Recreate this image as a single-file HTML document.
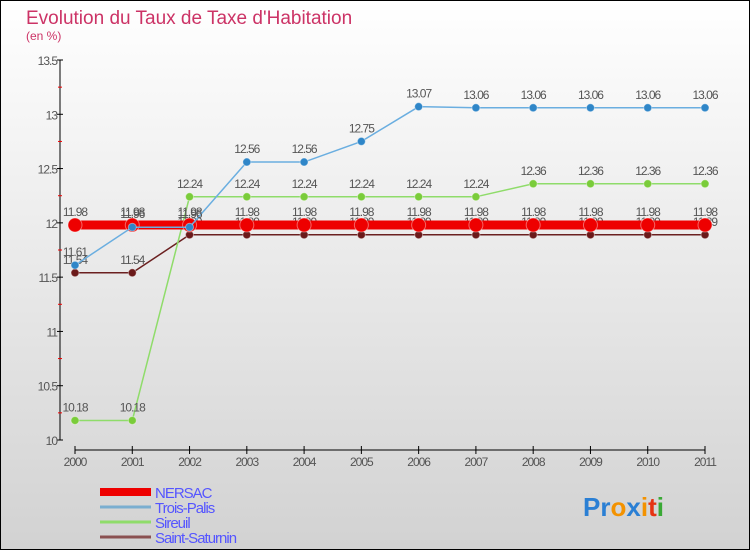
<!DOCTYPE html>
<html><head><meta charset="utf-8"><style>
body{margin:0}
#c{width:750px;height:550px;position:relative;font-family:"Liberation Sans",sans-serif}
</style></head><body>
<div id="c">
<svg id="s" width="750" height="550" xmlns="http://www.w3.org/2000/svg">
<defs><linearGradient id="bg" x1="0" y1="0" x2="0" y2="1"><stop offset="0" stop-color="#ffffff"/><stop offset="1" stop-color="#d2d2d2"/></linearGradient></defs>
<rect x="0.5" y="0.5" width="749" height="549" fill="url(#bg)" stroke="#000"/>
<text x="26" y="24" font-size="19" fill="#cc3366">Evolution du Taux de Taxe d'Habitation</text>
<text x="26" y="40" font-size="12" fill="#cc3366">(en %)</text>
<g id="axes"></g><g id="series"></g><g id="legend"></g>
<g font-size="26" font-weight="bold">
<text x="583" y="516"><tspan fill="#2a7fd4">Pr</tspan><tspan fill="#f39200">o</tspan><tspan fill="#2a7fd4">x</tspan><tspan fill="#f39200">i</tspan><tspan fill="#e63312">t</tspan><tspan fill="#3aa935">i</tspan></text>
</g>
</svg>
</div>
<script>
const years=[2000,2001,2002,2003,2004,2005,2006,2007,2008,2009,2010,2011];
const nersac=[11.98,11.98,11.98,11.98,11.98,11.98,11.98,11.98,11.98,11.98,11.98,11.98];
const troisPalis=[11.61,11.96,11.96,12.56,12.56,12.75,13.07,13.06,13.06,13.06,13.06,13.06];
const sireuil=[10.18,10.18,12.24,12.24,12.24,12.24,12.24,12.24,12.36,12.36,12.36,12.36];
const saintSaturnin=[11.54,11.54,11.89,11.89,11.89,11.89,11.89,11.89,11.89,11.89,11.89,11.89];
const yTicks=[10,10.5,11,11.5,12,12.5,13,13.5];
const NS="http://www.w3.org/2000/svg";
const X=i=>75+i*(630/11);
const Y=v=>440-(v-10)*(380/3.5);
function mk(t,a,p){const e=document.createElementNS(NS,t);for(const k in a)e.setAttribute(k,a[k]);p.appendChild(e);return e;}
const ax=document.getElementById('axes');
let e=mk('line',{x1:60,y1:60,x2:60,y2:440,stroke:'#000'},ax);


e=mk('line',{x1:75,y1:450,x2:705,y2:450,stroke:'#000'},ax);


for(let v=10.25;v<13.5;v+=0.5){mk('line',{x1:58,x2:62,y1:Y(v),y2:Y(v),stroke:'#e00'},ax);}
yTicks.forEach(v=>{mk('line',{x1:57,x2:63,y1:Y(v),y2:Y(v),stroke:'#000'},ax);
const t=mk('text',{x:57,y:Y(v)+5,'text-anchor':'end','font-size':12,fill:'#555','letter-spacing':'-1'},ax);t.textContent=v;

});
years.forEach((yr,i)=>{mk('line',{x1:X(i),x2:X(i),y1:446,y2:454,stroke:'#000'},ax);
const t=mk('text',{x:X(i),y:466,'text-anchor':'middle','font-size':12,fill:'#555','letter-spacing':'-1'},ax);t.textContent=yr;

});
const sg=document.getElementById('series');
function draw(data,color,w,r,dot,name,lbl){
const g=mk('g',{},sg);


mk('polyline',{points:data.map((v,i)=>X(i)+','+Y(v)).join(' '),fill:'none',stroke:color,'stroke-width':w},g);
data.forEach((v,i)=>{const c=mk('circle',{cx:X(i),cy:Y(v),r:r,fill:dot,stroke:'#fff','stroke-opacity':0.4},g);


const t=mk('text',{x:X(i),y:Y(v)-9,'text-anchor':'middle','font-size':12,fill:'#555','letter-spacing':'-1'},g);t.textContent=lbl(v);

});
}
const f=v=>String(v);
draw(saintSaturnin,'#6b2020',1.5,4,'#6b1a1a','saint-saturnin-series',f);
draw(sireuil,'#8fdc6a',1.5,4,'#7acc3a','sireuil-series',f);
draw(nersac,'#ee0000',9,7,'#ee0000','nersac-series',f);
draw(troisPalis,'#6aaee0',1.5,4,'#2f86c8','trois-palis-series',f);
const lg=document.getElementById('legend');
const items=[['NERSAC','#ee0000',8],['Trois-Palis','#7aaed0',3],['Sireuil','#8fdc6a',3],['Saint-Saturnin','#8a5050',3]];
items.forEach((it,k)=>{const y=492+k*15;
const g=mk('g',{},lg);


mk('line',{x1:100,x2:151,y1:y,y2:y,stroke:it[1],'stroke-width':it[2]},g);
const t=mk('text',{x:155,y:y+6,'font-size':15,fill:'#5555ff','letter-spacing':'-1'},g);t.textContent=it[0];});
</script>
</body></html>
